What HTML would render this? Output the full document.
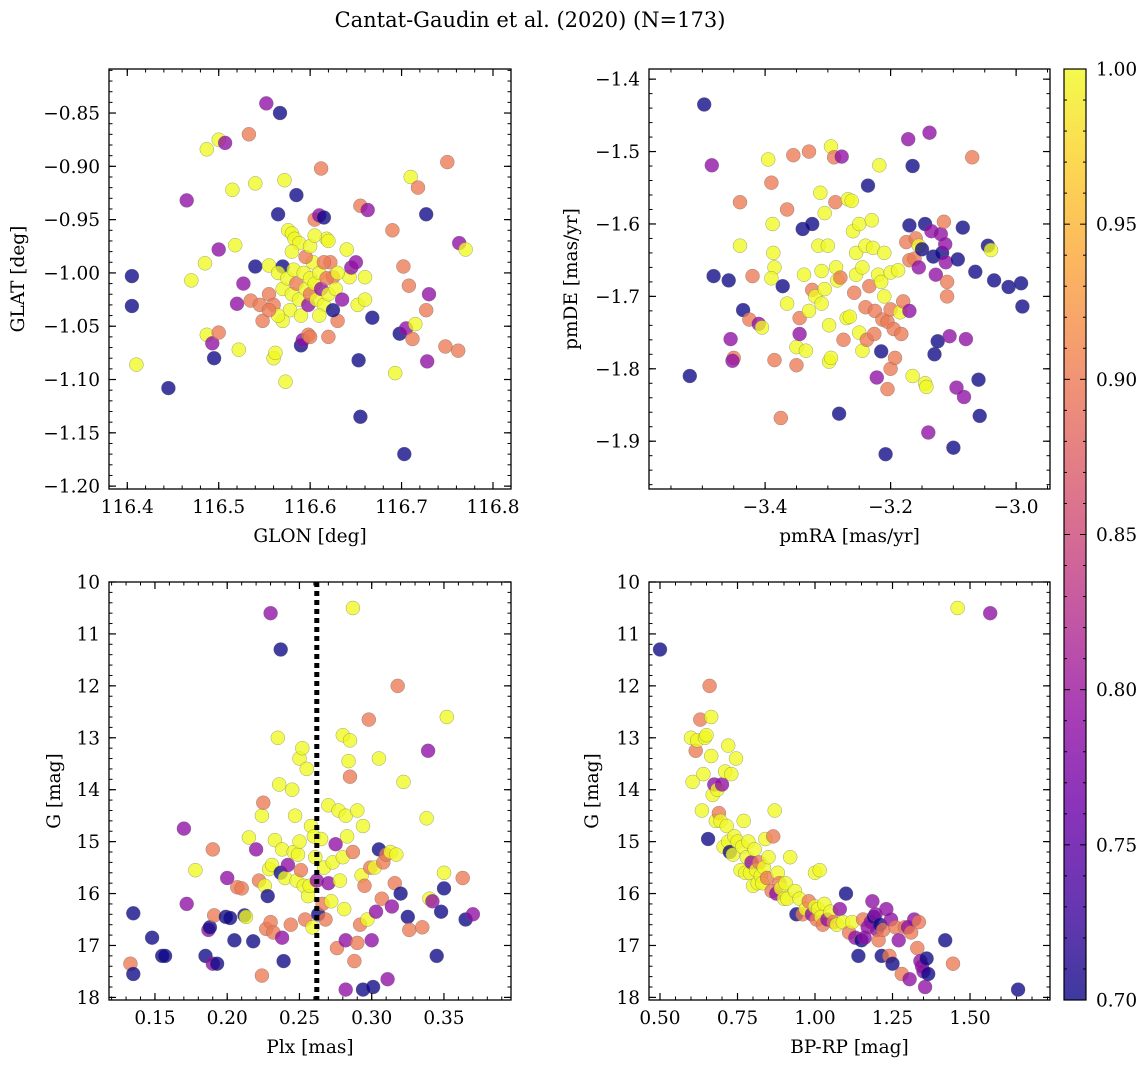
<!DOCTYPE html>
<html><head><meta charset="utf-8">
<style>
html,body{margin:0;padding:0;background:#fff;}
svg{display:block;font-family:"DejaVu Serif","Liberation Serif",serif;}
</style></head>
<body>
<svg id="fig" width="1148" height="1068" xmlns="http://www.w3.org/2000/svg">
<defs>
<linearGradient id="plasma" x1="0" y1="1" x2="0" y2="0">
<stop offset="0" stop-color="#0d0887"/><stop offset="0.1" stop-color="#41049d"/>
<stop offset="0.2" stop-color="#6a00a8"/><stop offset="0.3" stop-color="#8f0da4"/>
<stop offset="0.4" stop-color="#b12a90"/><stop offset="0.5" stop-color="#cc4778"/>
<stop offset="0.6" stop-color="#e16462"/><stop offset="0.7" stop-color="#f2844b"/>
<stop offset="0.8" stop-color="#fca636"/><stop offset="0.9" stop-color="#fcce25"/>
<stop offset="1" stop-color="#f0f921"/>
</linearGradient>
</defs>
<text x="530" y="27" text-anchor="middle" font-size="21">Cantat-Gaudin et al. (2020) (N=173)</text>
</svg>
<script>
// membership probability codes: n=0.70, p=0.79, s=0.90, y=1.00
const probCodes = {n:0.70, p:0.79, s:0.90, y:1.00};
const glonGlat = [
[116.405,-1.003,'n'],[116.405,-1.031,'n'],[116.41,-1.086,'y'],[116.445,-1.108,'n'],[116.465,-0.932,'p'],[116.47,-1.007,'y'],[116.485,-0.991,'y'],[116.487,-0.884,'y'],[116.487,-1.058,'y'],[116.493,-1.066,'p'],[116.495,-1.08,'n'],[116.50,-1.056,'s'],[116.50,-0.875,'y'],[116.50,-0.978,'p'],[116.507,-0.878,'p'],[116.515,-0.922,'y'],[116.518,-0.974,'y'],[116.52,-1.029,'p'],[116.522,-1.072,'y'],[116.527,-1.01,'p'],[116.533,-0.87,'s'],[116.535,-1.026,'s'],[116.54,-0.994,'n'],[116.54,-0.916,'y'],[116.545,-1.03,'s'],[116.548,-1.045,'s'],[116.552,-0.841,'p'],[116.555,-0.993,'y'],[116.56,-1.08,'y'],[116.562,-1.075,'y'],[116.565,-0.945,'n'],[116.567,-0.85,'n'],[116.57,-0.994,'n'],[116.572,-0.913,'y'],[116.573,-1.102,'y'],[116.576,-0.96,'y'],[116.58,-0.963,'y'],[116.583,-0.968,'y'],[116.585,-0.927,'n'],[116.588,-0.972,'y'],[116.59,-1.068,'n'],[116.592,-1.063,'p'],[116.598,-1.058,'s'],[116.605,-0.95,'s'],[116.61,-0.946,'p'],[116.612,-0.902,'s'],[116.615,-0.948,'n'],[116.618,-0.968,'y'],[116.62,-0.97,'y'],[116.625,-1.004,'s'],[116.63,-1.045,'s'],[116.64,-0.978,'y'],[116.643,-1.004,'y'],[116.645,-0.995,'p'],[116.65,-0.99,'p'],[116.652,-1.03,'y'],[116.653,-1.082,'n'],[116.655,-0.937,'s'],[116.655,-1.135,'n'],[116.66,-1.004,'y'],[116.66,-1.025,'y'],[116.663,-0.941,'p'],[116.668,-1.042,'n'],[116.69,-0.96,'s'],[116.693,-1.094,'y'],[116.698,-1.057,'n'],[116.702,-0.994,'s'],[116.703,-1.17,'n'],[116.705,-1.052,'p'],[116.708,-1.012,'s'],[116.71,-0.91,'y'],[116.712,-1.062,'s'],[116.715,-1.048,'y'],[116.718,-0.92,'s'],[116.727,-1.035,'s'],[116.727,-0.945,'n'],[116.728,-1.083,'p'],[116.73,-1.02,'p'],[116.748,-1.069,'s'],[116.75,-0.896,'s'],[116.762,-1.073,'s'],[116.763,-0.972,'p'],[116.77,-0.978,'y'],
[116.555,-1.02,'s'],[116.56,-1.03,'s'],[116.565,-1.0,'y'],[116.57,-1.015,'y'],[116.575,-1.005,'y'],[116.578,-1.035,'y'],[116.58,-1.02,'y'],[116.582,-0.997,'y'],[116.585,-1.01,'s'],[116.588,-1.025,'y'],[116.59,-1.04,'y'],[116.593,-1.0,'y'],[116.595,-1.015,'y'],[116.598,-1.03,'p'],[116.6,-1.005,'y'],[116.6,-1.02,'s'],[116.603,-0.99,'y'],[116.605,-1.01,'y'],[116.607,-1.025,'y'],[116.61,-1.0,'y'],[116.612,-1.015,'p'],[116.615,-1.03,'y'],[116.618,-1.005,'s'],[116.62,-1.02,'y'],[116.622,-0.99,'s'],[116.625,-1.035,'n'],[116.628,-1.015,'y'],[116.63,-1.0,'y'],[116.61,-1.04,'y'],[116.595,-0.985,'s'],[116.57,-1.045,'y'],[116.565,-1.04,'y'],[116.555,-1.035,'s'],[116.58,-0.98,'y'],[116.6,-0.975,'y'],[116.615,-0.99,'s'],[116.635,-1.025,'p'],[116.62,-1.06,'s'],[116.6,-1.06,'s'],[116.605,-0.965,'y']
];
const pmraPmde = [
[-3.497,-1.435,'n'],[-3.485,-1.519,'p'],[-3.482,-1.672,'n'],[-3.52,-1.81,'n'],[-3.458,-1.678,'n'],[-3.455,-1.759,'p'],[-3.45,-1.785,'s'],[-3.452,-1.789,'p'],[-3.44,-1.63,'y'],[-3.44,-1.57,'s'],[-3.435,-1.719,'n'],[-3.425,-1.732,'s'],[-3.42,-1.672,'s'],[-3.41,-1.738,'p'],[-3.405,-1.743,'y'],[-3.395,-1.511,'y'],[-3.39,-1.543,'s'],[-3.388,-1.6,'y'],[-3.387,-1.64,'y'],[-3.385,-1.66,'y'],[-3.39,-1.675,'y'],[-3.385,-1.788,'s'],[-3.375,-1.868,'s'],[-3.372,-1.686,'n'],[-3.365,-1.71,'y'],[-3.365,-1.58,'s'],[-3.355,-1.505,'s'],[-3.35,-1.77,'y'],[-3.35,-1.795,'s'],[-3.345,-1.752,'p'],[-3.345,-1.73,'s'],[-3.34,-1.607,'n'],[-3.338,-1.67,'y'],[-3.335,-1.775,'y'],[-3.33,-1.72,'y'],[-3.33,-1.5,'s'],[-3.325,-1.6,'n'],[-3.325,-1.691,'s'],[-3.32,-1.7,'y'],[-3.315,-1.63,'y'],[-3.312,-1.557,'y'],[-3.31,-1.71,'y'],[-3.31,-1.665,'y'],[-3.305,-1.69,'y'],[-3.305,-1.585,'y'],[-3.3,-1.63,'y'],[-3.298,-1.74,'y'],[-3.298,-1.79,'y'],[-3.295,-1.785,'y'],[-3.295,-1.493,'y'],[-3.29,-1.508,'s'],[-3.288,-1.57,'s'],[-3.287,-1.66,'y'],[-3.285,-1.678,'y'],[-3.282,-1.862,'n'],[-3.28,-1.674,'s'],[-3.278,-1.507,'p'],[-3.275,-1.76,'s'],[-3.27,-1.73,'y'],[-3.268,-1.566,'y'],[-3.265,-1.728,'y'],[-3.262,-1.568,'y'],[-3.26,-1.61,'y'],[-3.258,-1.695,'s'],[-3.255,-1.64,'y'],[-3.255,-1.67,'y'],[-3.25,-1.75,'y'],[-3.25,-1.6,'y'],[-3.245,-1.775,'y'],[-3.245,-1.66,'y'],[-3.24,-1.63,'y'],[-3.24,-1.715,'s'],[-3.238,-1.76,'s'],[-3.236,-1.547,'n'],[-3.234,-1.686,'s'],[-3.23,-1.595,'y'],[-3.228,-1.633,'y'],[-3.226,-1.752,'s'],[-3.225,-1.72,'s'],[-3.222,-1.812,'p'],[-3.22,-1.67,'y'],[-3.218,-1.519,'y'],[-3.215,-1.776,'n'],[-3.215,-1.68,'y'],[-3.213,-1.732,'s'],[-3.21,-1.64,'y'],[-3.21,-1.7,'y'],[-3.208,-1.918,'n'],[-3.205,-1.735,'s'],[-3.205,-1.828,'s'],[-3.2,-1.667,'y'],[-3.2,-1.718,'s'],[-3.2,-1.8,'s'],[-3.195,-1.745,'s'],[-3.193,-1.785,'s'],[-3.188,-1.664,'y'],[-3.185,-1.722,'y'],[-3.183,-1.752,'s'],[-3.18,-1.707,'s'],[-3.175,-1.625,'s'],[-3.172,-1.483,'p'],[-3.17,-1.602,'n'],[-3.17,-1.65,'s'],[-3.17,-1.72,'p'],[-3.165,-1.81,'y'],[-3.165,-1.52,'n'],[-3.162,-1.648,'s'],[-3.16,-1.62,'s'],[-3.155,-1.63,'y'],[-3.155,-1.66,'p'],[-3.15,-1.635,'n'],[-3.145,-1.6,'n'],[-3.145,-1.82,'y'],[-3.143,-1.825,'y'],[-3.14,-1.888,'p'],[-3.138,-1.474,'p'],[-3.135,-1.61,'p'],[-3.132,-1.645,'n'],[-3.13,-1.78,'n'],[-3.128,-1.67,'p'],[-3.125,-1.762,'n'],[-3.12,-1.614,'p'],[-3.118,-1.64,'n'],[-3.115,-1.597,'s'],[-3.113,-1.628,'p'],[-3.112,-1.653,'p'],[-3.11,-1.68,'s'],[-3.11,-1.7,'s'],[-3.106,-1.755,'p'],[-3.1,-1.909,'n'],[-3.095,-1.826,'p'],[-3.093,-1.649,'n'],[-3.085,-1.605,'n'],[-3.083,-1.839,'p'],[-3.08,-1.759,'p'],[-3.07,-1.508,'s'],[-3.065,-1.666,'n'],[-3.06,-1.815,'n'],[-3.058,-1.865,'n'],[-3.045,-1.63,'n'],[-3.04,-1.636,'y'],[-3.035,-1.678,'n'],[-3.012,-1.687,'n'],[-2.992,-1.682,'n'],[-2.99,-1.714,'n']
];
const plxG = [
[0.133,17.35,'s'],[0.135,16.38,'n'],[0.135,17.55,'n'],[0.148,16.85,'n'],[0.155,17.2,'n'],[0.157,17.2,'n'],[0.17,14.75,'p'],[0.172,16.2,'p'],[0.178,15.55,'y'],[0.185,17.2,'n'],[0.187,16.7,'p'],[0.188,16.65,'n'],[0.19,17.35,'p'],[0.19,15.15,'s'],[0.191,16.42,'s'],[0.193,17.35,'n'],[0.199,16.45,'n'],[0.2,15.7,'p'],[0.202,16.47,'n'],[0.205,16.9,'n'],[0.207,15.88,'s'],[0.21,15.9,'s'],[0.212,16.42,'n'],[0.213,16.45,'y'],[0.215,14.92,'y'],[0.218,16.92,'n'],[0.22,15.15,'p'],[0.222,15.75,'s'],[0.224,14.5,'y'],[0.224,17.58,'s'],[0.225,14.25,'s'],[0.226,15.85,'y'],[0.227,16.68,'s'],[0.228,16.05,'n'],[0.229,15.53,'y'],[0.23,16.55,'s'],[0.23,10.6,'p'],[0.231,15.45,'y'],[0.232,16.75,'s'],[0.233,14.97,'y'],[0.235,13.0,'y'],[0.236,13.9,'y'],[0.237,11.3,'n'],[0.237,15.6,'n'],[0.238,16.85,'p'],[0.238,15.15,'y'],[0.239,17.3,'n'],[0.24,15.7,'y'],[0.242,15.45,'p'],[0.244,16.6,'s'],[0.245,14.0,'y'],[0.246,15.2,'y'],[0.247,14.5,'y'],[0.248,15.75,'y'],[0.249,15.25,'y'],[0.25,15.0,'y'],[0.25,13.4,'y'],[0.251,15.55,'s'],[0.252,13.2,'y'],[0.253,15.85,'y'],[0.254,16.5,'s'],[0.255,13.6,'y'],[0.256,16.05,'y'],[0.257,15.85,'y'],[0.258,14.7,'y'],[0.259,16.65,'y'],[0.26,14.9,'y'],[0.261,15.3,'y'],[0.262,15.75,'p'],[0.263,16.4,'n'],[0.265,14.95,'y'],[0.266,16.2,'s'],[0.267,15.5,'y'],[0.268,16.5,'s'],[0.27,14.3,'y'],[0.27,15.8,'p'],[0.272,16.15,'y'],[0.273,15.4,'y'],[0.275,15.05,'p'],[0.276,17.05,'s'],[0.277,14.4,'y'],[0.278,15.75,'y'],[0.28,12.95,'y'],[0.28,15.3,'y'],[0.281,16.3,'y'],[0.282,14.5,'y'],[0.282,16.9,'p'],[0.283,14.9,'y'],[0.284,13.45,'y'],[0.285,13.75,'s'],[0.285,13.05,'y'],[0.287,15.2,'s'],[0.287,10.5,'y'],[0.288,17.3,'s'],[0.29,16.95,'s'],[0.29,14.4,'y'],[0.292,16.6,'s'],[0.293,15.65,'y'],[0.294,14.7,'y'],[0.294,17.85,'n'],[0.295,15.85,'s'],[0.297,16.5,'y'],[0.298,12.65,'s'],[0.299,15.5,'s'],[0.3,16.9,'p'],[0.301,17.8,'n'],[0.302,15.5,'y'],[0.303,16.35,'p'],[0.305,13.4,'y'],[0.305,15.15,'n'],[0.307,16.1,'s'],[0.308,15.4,'s'],[0.31,15.25,'s'],[0.311,17.65,'p'],[0.313,15.2,'y'],[0.314,16.25,'p'],[0.316,15.8,'s'],[0.317,15.25,'y'],[0.318,12.0,'s'],[0.32,16.0,'n'],[0.322,13.85,'y'],[0.325,16.45,'n'],[0.326,16.7,'s'],[0.335,16.65,'s'],[0.338,14.55,'y'],[0.339,13.25,'p'],[0.34,16.1,'y'],[0.342,16.15,'p'],[0.345,17.2,'n'],[0.348,16.35,'n'],[0.35,15.6,'y'],[0.35,15.9,'n'],[0.352,12.6,'y'],[0.363,15.7,'s'],[0.365,16.5,'n'],[0.37,16.4,'p'],[0.282,17.85,'p']
];
const bprpG = [
[0.5,11.3,'n'],[1.46,10.5,'y'],[1.565,10.6,'p'],[0.6,13.0,'y'],[0.605,13.85,'y'],[0.615,13.25,'s'],[0.62,13.05,'y'],[0.63,12.65,'s'],[0.635,14.4,'y'],[0.64,13.7,'y'],[0.645,13.0,'y'],[0.65,12.95,'y'],[0.655,14.95,'n'],[0.66,12.0,'s'],[0.665,12.6,'y'],[0.665,13.35,'y'],[0.67,14.1,'y'],[0.675,13.9,'p'],[0.68,14.6,'y'],[0.685,14.0,'y'],[0.69,14.45,'s'],[0.695,14.6,'y'],[0.7,13.9,'p'],[0.705,15.1,'y'],[0.71,13.65,'y'],[0.715,14.7,'y'],[0.72,13.15,'y'],[0.72,15.0,'y'],[0.725,15.2,'n'],[0.73,13.7,'y'],[0.735,15.25,'y'],[0.74,14.9,'y'],[0.745,13.4,'y'],[0.75,15.0,'y'],[0.76,15.55,'y'],[0.765,15.1,'y'],[0.77,14.6,'y'],[0.775,15.6,'y'],[0.78,15.3,'y'],[0.785,15.0,'y'],[0.79,15.6,'y'],[0.795,15.4,'p'],[0.8,15.85,'y'],[0.805,15.15,'y'],[0.81,15.55,'y'],[0.815,15.8,'y'],[0.82,15.4,'s'],[0.825,15.65,'y'],[0.83,15.8,'y'],[0.835,15.5,'y'],[0.84,14.95,'y'],[0.845,15.7,'s'],[0.85,15.3,'y'],[0.86,15.95,'s'],[0.865,14.9,'s'],[0.87,14.4,'y'],[0.875,16.0,'p'],[0.88,15.6,'y'],[0.885,15.8,'s'],[0.89,15.9,'y'],[0.9,16.1,'y'],[0.905,15.8,'y'],[0.91,16.1,'y'],[0.92,15.3,'y'],[0.935,15.95,'y'],[0.94,16.4,'n'],[0.95,16.1,'y'],[0.96,16.4,'s'],[0.97,16.3,'y'],[0.98,16.15,'s'],[0.99,16.4,'p'],[1.0,16.25,'y'],[1.0,15.6,'y'],[1.005,16.5,'s'],[1.01,16.3,'y'],[1.015,15.55,'y'],[1.02,16.45,'y'],[1.025,16.6,'s'],[1.03,16.2,'y'],[1.04,16.5,'p'],[1.05,16.35,'y'],[1.06,16.55,'s'],[1.07,16.6,'y'],[1.08,16.3,'p'],[1.09,16.55,'y'],[1.1,16.0,'n'],[1.11,16.75,'s'],[1.12,16.55,'y'],[1.13,16.85,'p'],[1.14,17.2,'n'],[1.15,16.9,'n'],[1.155,16.5,'s'],[1.16,16.85,'p'],[1.17,16.65,'p'],[1.18,16.55,'p'],[1.185,16.15,'p'],[1.19,16.45,'n'],[1.195,16.4,'p'],[1.2,16.7,'p'],[1.205,16.9,'s'],[1.21,16.6,'n'],[1.215,17.2,'n'],[1.22,16.7,'s'],[1.23,16.3,'p'],[1.24,17.2,'s'],[1.245,16.5,'p'],[1.25,17.35,'n'],[1.26,16.65,'s'],[1.27,16.9,'p'],[1.28,17.55,'s'],[1.29,16.65,'s'],[1.3,16.65,'p'],[1.305,17.65,'p'],[1.31,16.75,'s'],[1.32,16.5,'p'],[1.33,17.05,'s'],[1.335,16.55,'s'],[1.34,17.3,'p'],[1.345,17.4,'p'],[1.35,17.5,'p'],[1.355,17.8,'p'],[1.36,17.25,'n'],[1.365,17.55,'n'],[1.42,16.9,'n'],[1.445,17.35,'s'],[1.655,17.85,'n']
];
const cbarTicks = [0.70,0.75,0.80,0.85,0.90,0.95,1.00];
const plxCut = 0.262;

const NS = "http://www.w3.org/2000/svg";
const fig = document.getElementById('fig');
const FS = 18.5;
function mk(tag, attrs, parent){ const e=document.createElementNS(NS,tag); for(const k in attrs) e.setAttribute(k,attrs[k]); (parent||fig).appendChild(e); return e; }
const stops=[[0,[13,8,135]],[0.1,[65,4,157]],[0.2,[106,0,168]],[0.3,[143,13,164]],[0.4,[177,42,144]],[0.5,[204,71,120]],[0.6,[225,100,98]],[0.7,[242,132,75]],[0.8,[252,166,54]],[0.9,[252,206,37]],[1,[240,249,33]]];
function plasma(t){ t=Math.max(0,Math.min(1,t)); for(let i=1;i<stops.length;i++){ if(t<=stops[i][0]){ const a=stops[i-1],b=stops[i]; const f=(t-a[0])/(b[0]-a[0]); const c=a[1].map((v,j)=>Math.round(v+(b[1][j]-v)*f)); return `rgb(${c[0]},${c[1]},${c[2]})`; } } return 'rgb(240,249,33)'; }
function fmt(v,d){ const s=Math.abs(v).toFixed(d); return (v<-1e-9?'\u2212':'')+s; }

function panel(c){
  const g=mk('g',{});
  
  
  const sx=v=>c.x0+(v-c.xl)/(c.xr-c.xl)*(c.x1-c.x0);
  const sy=v=>c.y0+(v-c.yt)/(c.yb-c.yt)*(c.y1-c.y0);
  const pg=mk('g',{},g);
  
  
  c.data.forEach(d=>{
    const p=probCodes[d[2]];
    const circ=mk('circle',{cx:sx(d[0]).toFixed(1),cy:sy(d[1]).toFixed(1),r:7,fill:plasma((p-0.7)/0.3),'fill-opacity':0.78,stroke:'#666','stroke-width':0.5,'stroke-opacity':0.6},pg);
    
    
  });
  if(c.vline!==undefined){
    const ln=mk('line',{x1:sx(c.vline),x2:sx(c.vline),y1:c.y0,y2:c.y1,stroke:'#000','stroke-width':5,'stroke-dasharray':'5,4'},g);
    
    
  }
  const fr=mk('rect',{x:c.x0,y:c.y0,width:c.x1-c.x0,height:c.y1-c.y0,fill:'none',stroke:'#000','stroke-width':1.3},g);
  
  
  const xlo=Math.min(c.xl,c.xr), xhi=Math.max(c.xl,c.xr), ylo=Math.min(c.yt,c.yb), yhi=Math.max(c.yt,c.yb);
  for(let k=Math.ceil(xlo/c.xm-1e-6);k<=Math.floor(xhi/c.xm+1e-6);k++){ const x=sx(k*c.xm);
    mk('line',{x1:x,x2:x,y1:c.y1,y2:c.y1-3.5,stroke:'#000','stroke-width':1},g); mk('line',{x1:x,x2:x,y1:c.y0,y2:c.y0+3.5,stroke:'#000','stroke-width':1},g); }
  for(let k=Math.ceil(ylo/c.ym-1e-6);k<=Math.floor(yhi/c.ym+1e-6);k++){ const y=sy(k*c.ym);
    mk('line',{x1:c.x0,x2:c.x0+3.5,y1:y,y2:y,stroke:'#000','stroke-width':1},g); mk('line',{x1:c.x1,x2:c.x1-3.5,y1:y,y2:y,stroke:'#000','stroke-width':1},g); }
  c.xt.forEach(v=>{ const x=sx(v);
    mk('line',{x1:x,x2:x,y1:c.y1,y2:c.y1-7,stroke:'#000','stroke-width':1.2},g); mk('line',{x1:x,x2:x,y1:c.y0,y2:c.y0+7,stroke:'#000','stroke-width':1.2},g);
    const t=mk('text',{x:x,y:c.y1+24,'text-anchor':'middle','font-size':FS},g); t.textContent=fmt(v,c.xd);
      });
  c.yt2.forEach(v=>{ const y=sy(v);
    mk('line',{x1:c.x0,x2:c.x0+7,y1:y,y2:y,stroke:'#000','stroke-width':1.2},g); mk('line',{x1:c.x1,x2:c.x1-7,y1:y,y2:y,stroke:'#000','stroke-width':1.2},g);
    const t=mk('text',{x:c.x0-9,y:y+6.5,'text-anchor':'end','font-size':FS},g); t.textContent=fmt(v,c.yd);
      });
  const xl=mk('text',{x:(c.x0+c.x1)/2,y:c.y1+53,'text-anchor':'middle','font-size':FS},g); xl.textContent=c.xlabel;
   
  const yl=mk('text',{x:c.ylx,y:(c.y0+c.y1)/2,'text-anchor':'middle','font-size':FS,transform:`rotate(-90 ${c.ylx} ${(c.y0+c.y1)/2})`},g); yl.textContent=c.ylabel;
   
}

panel({name:'glon-glat-panel',data:glonGlat,x0:109,x1:511,y0:69,y1:489,xl:116.380,xr:116.8197,yt:-0.8087,yb:-1.2027,
  xt:[116.4,116.5,116.6,116.7,116.8],xm:0.02,xd:1,yt2:[-0.85,-0.9,-0.95,-1.0,-1.05,-1.1,-1.15,-1.2],ym:0.01,yd:2,xlabel:'GLON [deg]',ylabel:'GLAT [deg]',ylx:24});
panel({name:'proper-motion-panel',data:pmraPmde,x0:649,x1:1050,y0:69,y1:489,xl:-3.585,xr:-2.946,yt:-1.386,yb:-1.966,
  xt:[-3.4,-3.2,-3.0],xm:0.05,xd:1,yt2:[-1.4,-1.5,-1.6,-1.7,-1.8,-1.9],ym:0.02,yd:1,xlabel:'pmRA [mas/yr]',ylabel:'pmDE [mas/yr]',ylx:577});
panel({name:'parallax-mag-panel',data:plxG,x0:109,x1:511,y0:582,y1:1000,xl:0.1182,xr:0.3964,yt:10,yb:18.05,
  xt:[0.15,0.2,0.25,0.3,0.35],xm:0.01,xd:2,yt2:[10,11,12,13,14,15,16,17,18],ym:0.2,yd:0,xlabel:'Plx [mas]',ylabel:'G [mag]',ylx:60,vline:plxCut});
panel({name:'cmd-panel',data:bprpG,x0:649,x1:1050,y0:582,y1:1000,xl:0.4645,xr:1.758,yt:10,yb:18.05,
  xt:[0.5,0.75,1.0,1.25,1.5],xm:0.05,xd:2,yt2:[10,11,12,13,14,15,16,17,18],ym:0.2,yd:0,xlabel:'BP-RP [mag]',ylabel:'G [mag]',ylx:598});

const cb=mk('g',{});


const cbx0=1064,cbx1=1086,cby0=69,cby1=1000;
mk('rect',{x:cbx0,y:cby0,width:cbx1-cbx0,height:cby1-cby0,fill:'url(#plasma)','fill-opacity':0.8},cb);
mk('rect',{x:cbx0,y:cby0,width:cbx1-cbx0,height:cby1-cby0,fill:'none',stroke:'#000','stroke-width':1.2},cb);
const cy=v=>cby1-(v-0.7)/0.3*(cby1-cby0);
for(let k=70;k<=100;k++){ const y=cy(k/100); const maj=(k%5===0); const L=maj?6:3;
  mk('line',{x1:cbx1,x2:cbx1-L,y1:y,y2:y,stroke:'#000','stroke-width':1},cb);
  mk('line',{x1:cbx0,x2:cbx0+L,y1:y,y2:y,stroke:'#000','stroke-width':1},cb); }
cbarTicks.forEach(v=>{ const t=mk('text',{x:cbx1+10,y:cy(v)+6.5,'font-size':FS},cb); t.textContent=v.toFixed(2);
    });
</script>
</body></html>
